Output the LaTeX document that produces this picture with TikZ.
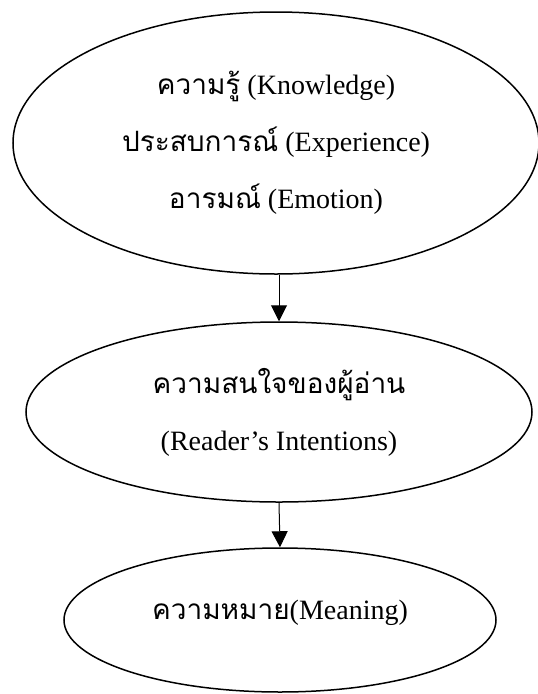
\documentclass[tikz,border=0pt]{standalone}
\usepackage{fontspec}
\setmainfont{Liberation Serif}
\newfontfamily\thaifont[Script=Thai]{Loma}
\usepackage{tikz}
\usetikzlibrary{shapes.geometric, arrows.meta}

\begin{document}
\begin{tikzpicture}[
        x=1pt, y=1pt,
        myellipse/.style={draw, ellipse, line width=1.5pt, inner sep=0pt, align=center,
            font=\fontsize{28}{57}\selectfont}
        ]
    % Define styles
    \tikzstyle{flow} = [-{Triangle[width=16pt, length=16pt]}, line width=1pt]

    \useasboundingbox (0, 0) rectangle (538, -694);

    % Define ellipse nodes
    \node[myellipse, minimum width=526, minimum height=262] (know) at (276, -143)
        {{\thaifont ความรู้} (Knowledge)\\ {\thaifont ประสบการณ์} (Experience)\\ {\thaifont อารมณ์} (Emotion)};
    \node[myellipse, minimum width=506, minimum height=180] (intent) at (279, -412)
        {{\thaifont ความสนใจของผู้อ่าน}\\ (Reader's Intentions)};
    \node[myellipse, minimum width=432, minimum height=144, text depth=20pt] (mean) at (280, -620)
        {{\thaifont ความหมาย}(Meaning)};

    % Draw edges between ellipses
    \draw[flow] (know.south -| intent.north) -- (intent.north);
    \draw[flow] (intent.south) -- (mean.north);

\end{tikzpicture}
\end{document}
